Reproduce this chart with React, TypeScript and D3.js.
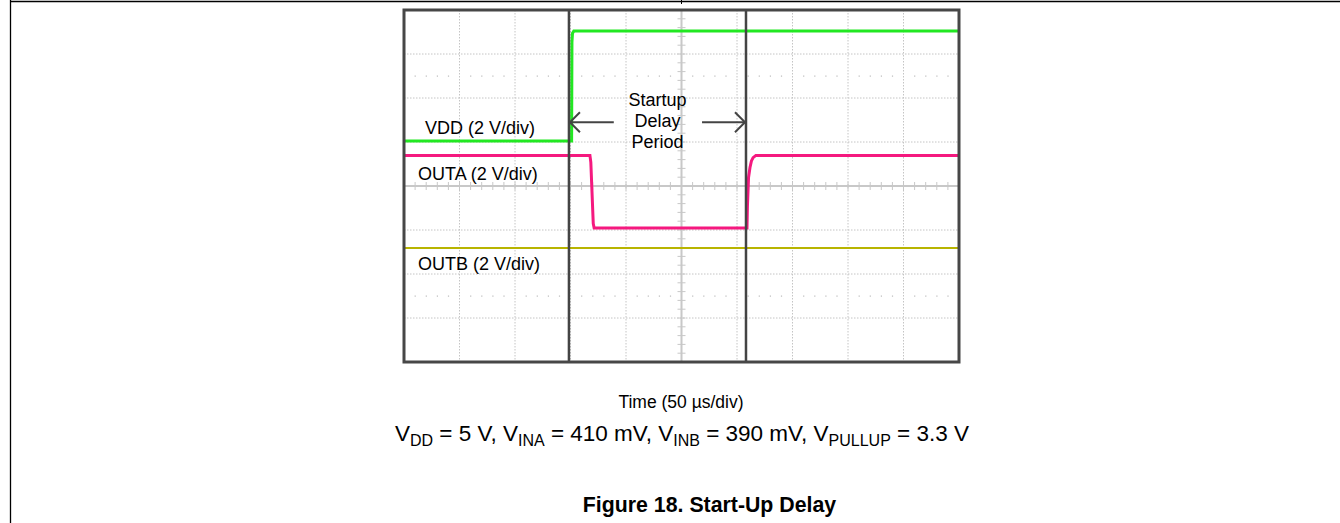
import React from 'react'
import * as d3 from 'd3'

// time axis: 50 us/div, 10 divisions
const timeDomain = [0, 500];
const divDomain = [-4, 4];
const voltsPerDiv = 2;

// traces (time in us, level in V)
const vddTime = [0, 151, 151.3, 151.8, 153, 500];
const vddVolts = [0, 0, 4.5, 4.9, 5, 5];
const outaTime = [0, 167.5, 168.3, 170.5, 171.3, 309, 309.4, 310.4, 311.7, 313, 314.5, 317, 500];
const outaVolts = [3.3, 3.3, 3.0, 0.2, 0, 0, 1.0, 2.3, 2.75, 3.05, 3.2, 3.3, 3.3];
const outbTime = [0, 500];
const outbVolts = [0, 0];

// ground markers, in divisions from centre
const vddOffset = 1.02;
const outaOffset = -0.955;
const outbOffset = -1.41;

const cursorTimes = [148.6, 308.1];
const labels = ['VDD (2 V/div)', 'OUTA (2 V/div)', 'OUTB (2 V/div)'];
const delayWords = ['Startup', 'Delay', 'Period'];

const W = 1340;
const H = 523;
const box = {left: 404, top: 10, right: 959, bottom: 362};

const x = d3.scaleLinear().domain(timeDomain).range([box.left, box.right]);
const y = d3.scaleLinear().domain(divDomain).range([box.bottom, box.top]);

function tracePath(times: number[], volts: number[], offset: number) {
  const line = d3.line<number>()
    .x((d, i) => x(times[i]))
    .y(d => y(offset + d / voltsPerDiv));
  return line(volts) || '';
}

export default function App() {
  const xDivs = d3.range(1, 10).map(i => timeDomain[0] + i * 50);
  const yDivs = d3.range(-3, 4);
  const xMinor = d3.range(0, 500.01, 10);
  const yMinor = d3.range(-4, 4.01, 0.2);
  const font = 'Arial, "Liberation Sans", Helvetica, sans-serif';
  const arrowY = y(1.45);
  const midT = (cursorTimes[0] + cursorTimes[1]) / 2;

  return (
    <div style={{position: 'absolute', left: 0, top: 0}}>
      <svg width={W} height={H} style={{display: 'block'}} fontFamily={font}>
        <rect width={W} height={H} fill="#fff" />
        {/* page frame */}
        <line x1={10} x2={W} y1={1.5} y2={1.5} stroke="#000" strokeWidth={1.3} />
        <line x1={10.5} x2={10.5} y1={0} y2={H} stroke="#000" strokeWidth={1.3} />
        <line x1={681.5} x2={681.5} y1={0} y2={4} stroke="#000" strokeWidth={1} />

        {/* grid */}
        <g stroke="#c4c4c4" strokeWidth={1} strokeDasharray="1.5,1.5">
          {xDivs.filter(t => t !== 250).map(t => (
            <line key={'gx' + t} x1={x(t)} x2={x(t)} y1={box.top} y2={box.bottom} />
          ))}
          {yDivs.filter(d => d !== 0).map(d => (
            <line key={'gy' + d} x1={box.left} x2={box.right} y1={y(d)} y2={y(d)} />
          ))}
        </g>
        {/* sparse marker rows at +-2.5 div */}
        <g fill="#bbb">
          {[2.5, -2.5].map(d => xMinor.filter((t, i) => i % 5 !== 0).map(t => (
            <rect key={'m' + d + t} x={x(t) - 0.5} y={y(d) - 0.5} width={1.2} height={1.2} />
          )))}
        </g>
        {/* centre axes with ticks */}
        <g stroke="#c8c8c8">
          <line x1={x(250)} x2={x(250)} y1={box.top} y2={box.bottom} strokeWidth={2} />
          <line x1={box.left} x2={box.right} y1={y(0)} y2={y(0)} strokeWidth={2} />
          {yMinor.map(d => (
            <line key={'ty' + d} x1={x(250) - 4} x2={x(250) + 4} y1={y(d)} y2={y(d)} strokeWidth={1} />
          ))}
          {xMinor.map(t => (
            <line key={'tx' + t} x1={x(t)} x2={x(t)} y1={y(0) - 4} y2={y(0) + 4} strokeWidth={1} />
          ))}
        </g>

        {/* traces */}
        <path d={tracePath(outbTime, outbVolts, outbOffset)} fill="none" stroke="#b8b400" strokeWidth={2} />
        <path d={tracePath(outaTime, outaVolts, outaOffset)} fill="none" stroke="#f5197f" strokeWidth={3} />
        <path d={tracePath(vddTime, vddVolts, vddOffset)} fill="none" stroke="#22e822" strokeWidth={3} />

        {/* cursors */}
        {cursorTimes.map(t => (
          <line key={'c' + t} x1={x(t)} x2={x(t)} y1={box.top} y2={box.bottom} stroke="#444" strokeWidth={2.5} />
        ))}
        <rect x={box.left} y={box.top} width={box.right - box.left} height={box.bottom - box.top}
          fill="none" stroke="#474747" strokeWidth={3} />

        {/* arrows */}
        <g stroke="#444" strokeWidth={2} fill="none">
          <line x1={x(cursorTimes[0]) + 1} x2={x(189)} y1={arrowY} y2={arrowY} />
          <path d={`M${x(cursorTimes[0]) + 11},${arrowY - 10}L${x(cursorTimes[0]) + 1},${arrowY}L${x(cursorTimes[0]) + 11},${arrowY + 10}`} />
          <line x1={x(268.5)} x2={x(cursorTimes[1]) - 1} y1={arrowY} y2={arrowY} />
          <path d={`M${x(cursorTimes[1]) - 11},${arrowY - 10}L${x(cursorTimes[1]) - 1},${arrowY}L${x(cursorTimes[1]) - 11},${arrowY + 10}`} />
        </g>

        {/* labels */}
        <g fontSize={18} fill="#000">
          <text x={425} y={134}>{labels[0]}</text>
          <text x={418} y={180}>{labels[1]}</text>
          <text x={418} y={270}>{labels[2]}</text>
          {delayWords.map((w, i) => (
            <text key={w} x={x(midT)} y={106 + i * 21} textAnchor="middle">{w}</text>
          ))}
        </g>

        <text x={681} y={408} textAnchor="middle" fontSize={17.5}>Time (50 µs/div)</text>
        <text x={682} y={441} textAnchor="middle" fontSize={22.5}>
          V<tspan fontSize={16} dy={5}>DD</tspan><tspan dy={-5}> = 5 V, V</tspan>
          <tspan fontSize={16} dy={5}>INA</tspan><tspan dy={-5}> = 410 mV, V</tspan>
          <tspan fontSize={16} dy={5}>INB</tspan><tspan dy={-5}> = 390 mV, V</tspan>
          <tspan fontSize={16} dy={5}>PULLUP</tspan><tspan dy={-5}> = 3.3 V</tspan>
        </text>
        <text x={709.5} y={512} textAnchor="middle" fontSize={21.3} fontWeight="bold">Figure 18. Start-Up Delay</text>
      </svg>
    </div>
  );
}
